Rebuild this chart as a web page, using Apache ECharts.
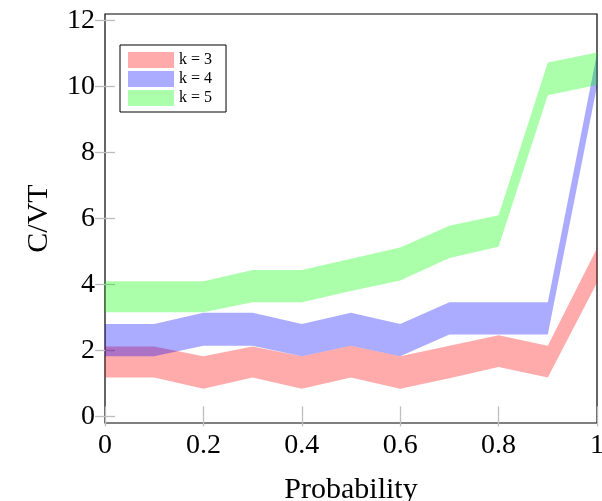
<!DOCTYPE html>
<html>
<head>
<meta charset="utf-8">
<script src="https://cdn.jsdelivr.net/npm/echarts@6/dist/echarts.min.js"></script>
<style>
  html, body { margin: 0; padding: 0; background: #fff; }
  #chart { width: 602px; height: 501px; }
</style>
</head>
<body>
<div id="chart"></div>
<script>
// x positions (probability)
const probability = [0, 0.1, 0.2, 0.3, 0.4, 0.5, 0.6, 0.7, 0.8, 0.9, 1.0];

// band bounds
const k3Lower = [1.18, 1.18, 0.84, 1.18, 0.84, 1.18, 0.84, 1.16, 1.50, 1.18, 4.05];
const k3Upper = [2.12, 2.12, 1.82, 2.12, 1.82, 2.14, 1.82, 2.14, 2.46, 2.14, 5.10];
const k4Lower = [1.82, 1.82, 2.14, 2.14, 1.82, 2.14, 1.82, 2.48, 2.48, 2.48, 10.02];
const k4Upper = [2.80, 2.80, 3.14, 3.14, 2.80, 3.14, 2.80, 3.46, 3.46, 3.46, 11.0];
const k5Lower = [3.16, 3.16, 3.16, 3.46, 3.46, 3.80, 4.12, 4.80, 5.14, 9.74, 10.05];
const k5Upper = [4.10, 4.10, 4.10, 4.44, 4.44, 4.78, 5.12, 5.78, 6.10, 10.73, 11.03];

const yTicks = [0, 2, 4, 6, 8, 10, 12];

const fontFam = '"Liberation Serif", "DejaVu Serif", serif';
const tickColor = '#bdbdbd';

function bandSeries(name, lower, upper, color) {
	const data = probability.map(function (p, i) { return [p, lower[i], upper[i]]; });
	return {
		name: name,
		type: 'custom',
		data: data,
		encode: { x: 0, y: [1, 2] },
		itemStyle: { color: color },
		renderItem: function (params, api) {
			if (params.dataIndex !== 0) return;
			let pts = [];
			for (let i = 0; i < data.length; i++) {
				pts.push(api.coord([data[i][0], data[i][2]]));
			}
			for (let i = data.length - 1; i >= 0; i--) {
				pts.push(api.coord([data[i][0], data[i][1]]));
			}
			return {
				type: 'polygon',
				shape: { points: pts },
				style: { fill: color }
			};
		}
	};
}

let mychart = echarts.init(document.getElementById('chart'));
let option = {
	animation: false,
	backgroundColor: '#fff',
	grid: {
		left: 105, right: 5, top: 14, bottom: 78,
		outerBoundsMode: 'none',
		show: true, borderColor: '#000', borderWidth: 1.2,
		backgroundColor: 'transparent'
	},
	legend: {
		orient: 'vertical',
		left: 120, top: 45,
		padding: [7, 14, 6, 8],
		itemGap: 3,
		itemWidth: 46,
		itemHeight: 16,
		icon: 'rect',
		borderColor: '#000',
		borderWidth: 1,
		backgroundColor: '#fff',
		textStyle: { fontFamily: fontFam, fontSize: 16, color: '#000' },
		data: ['k = 3', 'k = 4', 'k = 5']
	},
	xAxis: [{
		type: 'value',
		min: 0, max: 1, interval: 0.2,
		name: 'Probability',
		nameLocation: 'middle',
		nameGap: 52,
		nameTextStyle: { fontFamily: fontFam, fontSize: 30, color: '#000' },
		axisLine: { show: false },
		axisTick: { show: true, inside: true, length: 10, lineStyle: { color: tickColor, width: 1.3 } },
		axisLabel: { fontFamily: fontFam, fontSize: 28, color: '#000', margin: 9 },
		splitLine: { show: false }
	}, {
		type: 'value',
		position: 'top',
		min: 0, max: 1, interval: 0.2,
		axisLine: { show: false },
		axisTick: { show: true, inside: true, length: 10, lineStyle: { color: tickColor, width: 1.3 } },
		axisLabel: { show: false },
		splitLine: { show: false }
	}],
	yAxis: [{
		type: 'value',
		min: -0.2, max: 12.2,
		name: 'C/VT',
		nameLocation: 'middle',
		nameGap: 51,
		nameTextStyle: { fontFamily: fontFam, fontSize: 30, color: '#000' },
		axisLine: { show: false },
		axisTick: { show: true, inside: true, length: 10, customValues: yTicks, lineStyle: { color: tickColor, width: 1.3 } },
		axisLabel: { fontFamily: fontFam, fontSize: 28, color: '#000', margin: 10, customValues: yTicks },
		splitLine: { show: false }
	}, {
		type: 'value',
		position: 'right',
		min: -0.2, max: 12.2,
		axisLine: { show: false },
		axisTick: { show: true, inside: true, length: 10, customValues: yTicks, lineStyle: { color: tickColor, width: 1.3 } },
		axisLabel: { show: false },
		splitLine: { show: false }
	}],
	series: [
		bandSeries('k = 3', k3Lower, k3Upper, 'rgba(255,0,0,0.33)'),
		bandSeries('k = 4', k4Lower, k4Upper, 'rgba(0,0,255,0.33)'),
		bandSeries('k = 5', k5Lower, k5Upper, 'rgba(0,255,0,0.33)')
	]
};

mychart.setOption(option);
</script>
</body>
</html>
